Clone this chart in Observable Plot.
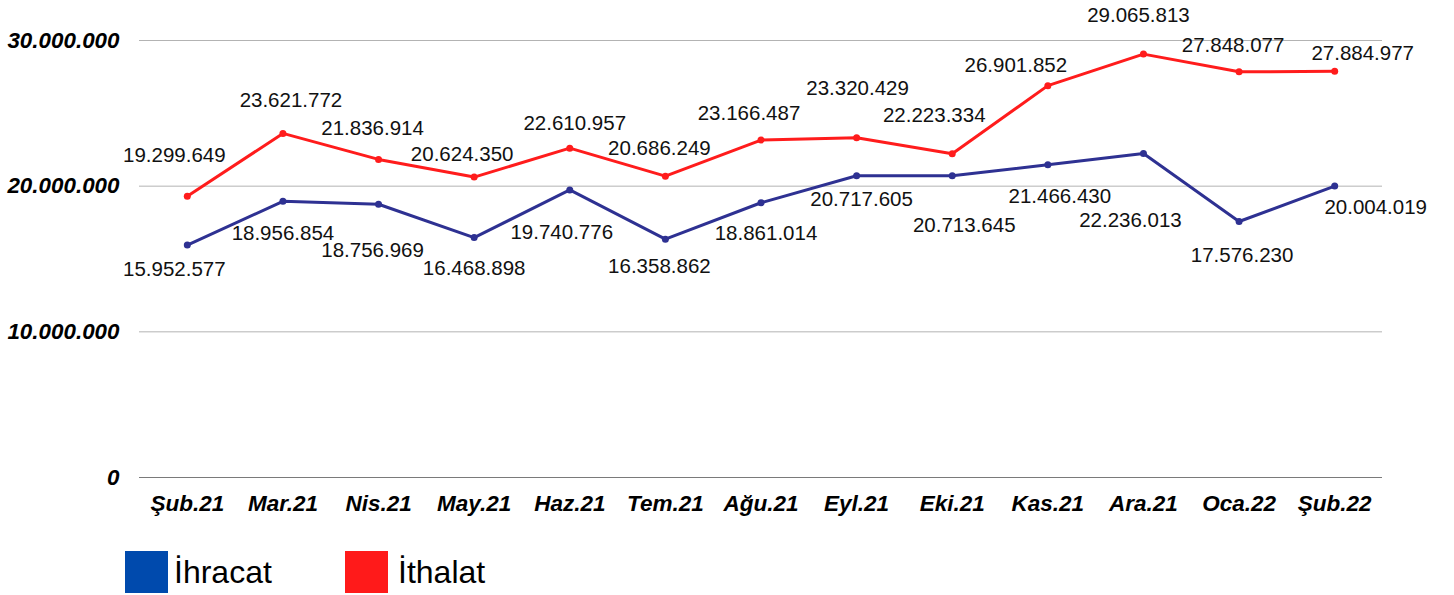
<!DOCTYPE html>
<html>
<head>
<meta charset="utf-8">
<script src="https://cdn.jsdelivr.net/npm/d3@7"></script>
<script src="https://cdn.jsdelivr.net/npm/@observablehq/plot@0.6"></script>
<style>
  html, body { margin: 0; padding: 0; background: #fff; }
  #wrap { position: relative; width: 1454px; height: 595px; font-family: "Liberation Sans", Arial, sans-serif; }
  #legend { position: absolute; top: 551px; left: 125px; display: flex; }
  .item { display: flex; align-items: center; }
  .sw { width: 43px; height: 42px; }
  .lab { font-size: 32px; color: #000; margin-left: 6px; line-height: 1; }
</style>
</head>
<body>
<div id="wrap">
  <div id="chart"></div>
  <div id="legend"></div>
</div>
<script>
const months = ["Şub.21", "Mar.21", "Nis.21", "May.21", "Haz.21", "Tem.21", "Ağu.21", "Eyl.21", "Eki.21", "Kas.21", "Ara.21", "Oca.22", "Şub.22"];
const ihracat = [15952577, 18956854, 18756969, 16468898, 19740776, 16358862, 18861014, 20717605, 20713645, 21466430, 22236013, 17576230, 20004019];
const ithalat = [19299649, 23621772, 21836914, 20624350, 22610957, 20686249, 23166487, 23320429, 22223334, 26901852, 29065813, 27848077, 27884977];
const yTicks = [0, 10000000, 20000000, 30000000];
const seriesNames = ["İhracat", "İthalat"];

// label placement offsets (pixels), layout only
const ithalatDx = [-13, 8, -6, -12, 5, -6, -12, 1, -18, -32, -5, -6, 28];
const ithalatDy = [-41, -33, -31, -23, -25, -28, -27, -49, -38, -20, -39, -26, -18];
const ihracatDx = [-13, 0, -6, 0, -8, -6, 5, 5, 12, 12, -13, 3, 41];
const ihracatDy = [24, 32, 46, 31, 42, 27, 31, 24, 50, 32, 67, 34, 21];

const lineColors = ["#2e3192", "#ff1c1c"];
const legendColors = ["#004aad", "#ff1a1a"];

const fmt = d => d3.format(",")(d).replace(/,/g, ".");

const ihrRows = months.map((m, i) => ({month: m, value: ihracat[i]}));
const ithRows = months.map((m, i) => ({month: m, value: ithalat[i]}));

const labelMarks = [];
ithRows.forEach((r, i) => {
  labelMarks.push(Plot.text([r], {x: "month", y: "value", text: d => fmt(d.value), dx: ithalatDx[i], dy: ithalatDy[i], fontSize: 20.5, fill: "#111"}));
});
ihrRows.forEach((r, i) => {
  labelMarks.push(Plot.text([r], {x: "month", y: "value", text: d => fmt(d.value), dx: ihracatDx[i], dy: ihracatDy[i], fontSize: 20.5, fill: "#111"}));
});

const chart = Plot.plot({
  width: 1454,
  height: 530,
  marginTop: 40,
  marginBottom: 53,
  marginLeft: 139,
  marginRight: 72,
  style: {fontFamily: "Liberation Sans, Arial, sans-serif", background: "#fff", overflow: "visible"},
  x: {type: "point", domain: months, padding: 0.5, round: false},
  y: {domain: [0, 30000000]},
  marks: [
    Plot.ruleY(yTicks.filter(d => d > 0), {stroke: "#b3b3b3", strokeWidth: 1}),
    Plot.ruleY([0], {stroke: "#7a7a7a", strokeWidth: 1}),
    Plot.axisY(yTicks, {tickSize: 0, tickPadding: 20, tickFormat: fmt, fontWeight: "bold", fontStyle: "italic", fontSize: 22.4, fill: "#000", label: null}),
    Plot.axisX({tickSize: 0, tickPadding: 18, fontWeight: "bold", fontStyle: "italic", fontSize: 22.5, fill: "#000", label: null}),
    Plot.line(ithRows, {x: "month", y: "value", stroke: lineColors[1], strokeWidth: 3}),
    Plot.dot(ithRows, {x: "month", y: "value", fill: lineColors[1], r: 3.5}),
    Plot.line(ihrRows, {x: "month", y: "value", stroke: lineColors[0], strokeWidth: 3}),
    Plot.dot(ihrRows, {x: "month", y: "value", fill: lineColors[0], r: 3.5}),
    ...labelMarks
  ]
});
document.getElementById("chart").appendChild(chart);

const legend = document.getElementById("legend");
seriesNames.forEach((name, i) => {
  const item = document.createElement("div");
  item.className = "item";
  item.style.width = i === 0 ? "220px" : "auto";
  const sw = document.createElement("div");
  sw.className = "sw";
  sw.style.background = legendColors[i];
  const lab = document.createElement("span");
  lab.className = "lab";
  lab.textContent = name;
  lab.style.marginLeft = i === 0 ? "6px" : "10px";
  item.appendChild(sw);
  item.appendChild(lab);
  legend.appendChild(item);
});
</script>
</body>
</html>
